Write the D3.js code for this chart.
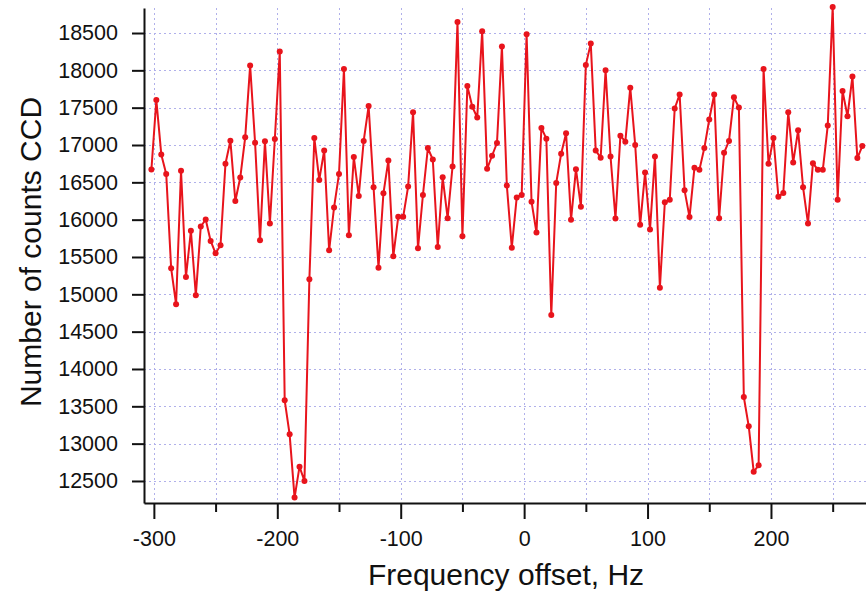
<!DOCTYPE html>
<html>
<head>
<meta charset="utf-8">
<script src="https://cdn.jsdelivr.net/npm/d3@7"></script>
<style>
  html, body { margin: 0; padding: 0; background: #fff; }
  svg { display: block; }
  text { font-family: "Liberation Sans", Arial, sans-serif; fill: #111; }
</style>
</head>
<body>
<svg id="chart" width="866" height="595"></svg>
<script>
// ---------- data ----------
const freqs = [
  -302,-298,-294,-290,-286,-282,-278,-274,-270,-266,-262,-258,-254,-250,-246,-242,-238,-234,-230,-226,
  -222,-218,-214,-210,-206,-202,-198,-194,-190,-186,-182,-178,-174,-170,-166,-162,-158,-154,-150,-146,
  -142,-138,-134,-130,-126,-122,-118,-114,-110,-106,-102,-98,-94,-90,-86,-82,-78,-74,-70,-66,
  -62,-58,-54,-50,-46,-42,-38,-34,-30,-26,-22,-18,-14,-10,-6,-2,2,6,10,14,
  18,22,26,30,34,38,42,46,50,54,58,62,66,70,74,78,82,86,90,94,
  98,102,106,110,114,118,122,126,130,134,138,142,146,150,154,158,162,166,170,174,
  178,182,186,190,194,198,202,206,210,214,218,222,226,230,234,238,242,246,250,254,
  258,262,266,270,274
];
const counts = [
  16672,17602,16874,16613,15348,14866,16654,15232,15850,14987,15908,16002,15715,15549,15657,16748,17058,16250,16564,17103,
  18064,17031,15724,17049,15949,17081,18253,13580,13125,12277,12692,12500,15201,17094,16532,16928,15589,16164,16613,18019,
  15791,16838,16317,17054,17521,16434,15357,16353,16793,15509,16038,16038,16443,17440,15616,16330,16959,16806,15634,16568,
  16020,16712,18648,15778,17790,17512,17368,18522,16681,16856,17027,18320,16456,15625,16298,16330,18485,16240,15827,17229,
  17085,14723,16492,16883,17157,15998,16676,16173,18073,18361,16928,16829,18001,16847,16016,17125,17045,17768,17000,15931,
  16631,15868,16847,15089,16232,16268,17489,17678,16393,16034,16694,16667,16959,17341,17678,16020,16896,17054,17638,17503,
  13625,13232,12625,12710,18019,16748,17094,16308,16357,17440,16766,17197,16434,15949,16757,16667,16667,17260,18850,16267,
  17723,17386,17916,16825,16986
];
const xMajorTicks = [-300, -200, -100, 0, 100, 200];
const xMinorTicks = [-250, -150, -50, 50, 150, 250];
const xGridTicks = [-300, -250, -200, -150, -100, -50, 0, 50, 100, 150, 200, 250];
const yTicks = [12500, 13000, 13500, 14000, 14500, 15000, 15500, 16000, 16500, 17000, 17500, 18000, 18500];
const xTitle = "Frequency offset, Hz";
const yTitle = "Number of counts CCD";

// ---------- layout ----------
const plotL = 144, plotR = 866, plotT = 8, plotB = 503;
const svg = d3.select("#chart");
svg.append("rect").attr("width", 866).attr("height", 595).attr("fill", "#fff");

const x = d3.scaleLinear().domain([-308, 277]).range([plotL, plotR]);
const y = d3.scaleLinear().domain([12205, 18835]).range([plotB, plotT]);

// grid
const grid = svg.append("g").attr("stroke", "#b0b0ea").attr("stroke-width", 1)
  .attr("stroke-dasharray", "2,3");
grid.selectAll("line.v").data(xGridTicks).join("line").attr("class", "v")
  .attr("x1", d => Math.round(x(d)) + 0.5).attr("x2", d => Math.round(x(d)) + 0.5)
  .attr("y1", plotT).attr("y2", plotB);
grid.selectAll("line.h").data(yTicks).join("line").attr("class", "h")
  .attr("x1", plotL).attr("x2", plotR)
  .attr("y1", d => Math.round(y(d)) + 0.5).attr("y2", d => Math.round(y(d)) + 0.5);

// series
const pts = freqs.map((f, i) => [f, counts[i]]);
const lineGen = d3.line().x(d => x(d[0])).y(d => y(d[1]));
svg.append("path").datum(pts).attr("d", lineGen)
  .attr("fill", "none").attr("stroke", "#e8141c").attr("stroke-width", 2)
  .attr("stroke-linejoin", "round");
svg.append("g").selectAll("circle").data(pts).join("circle")
  .attr("cx", d => x(d[0])).attr("cy", d => y(d[1])).attr("r", 3)
  .attr("fill", "#e8141c");

// axes
const yAxis = svg.append("g").attr("transform", `translate(${plotL},0)`)
  .call(d3.axisLeft(y).tickValues(yTicks).tickSize(12).tickSizeOuter(0).tickPadding(14)
    .tickFormat(d3.format("d")));
const xAxis = svg.append("g").attr("transform", `translate(0,${plotB})`)
  .call(d3.axisBottom(x).tickValues(xMajorTicks).tickSize(16).tickSizeOuter(0).tickPadding(12)
    .tickFormat(d3.format("d")));
const xMinor = svg.append("g").attr("transform", `translate(0,${plotB})`)
  .call(d3.axisBottom(x).tickValues(xMinorTicks).tickSize(9).tickSizeOuter(0).tickFormat(""));
xMinor.select(".domain").remove();

[yAxis, xAxis, xMinor].forEach(g => {
  g.selectAll("path, line").attr("stroke", "#111").attr("stroke-width", 2);
  g.selectAll("text").attr("font-size", 21.5).attr("fill", "#111")
    .attr("font-family", "'Liberation Sans', Arial, sans-serif");
});
xAxis.selectAll("text").text(d => d < 0 ? "-" + Math.abs(d) : String(d));

// titles
svg.append("text").attr("x", 506).attr("y", 585).attr("text-anchor", "middle")
  .attr("font-size", 30).text(xTitle);
svg.append("text").attr("transform", "translate(41,252) rotate(-90)")
  .attr("text-anchor", "middle").attr("font-size", 30).text(yTitle);
</script>
</body>
</html>
